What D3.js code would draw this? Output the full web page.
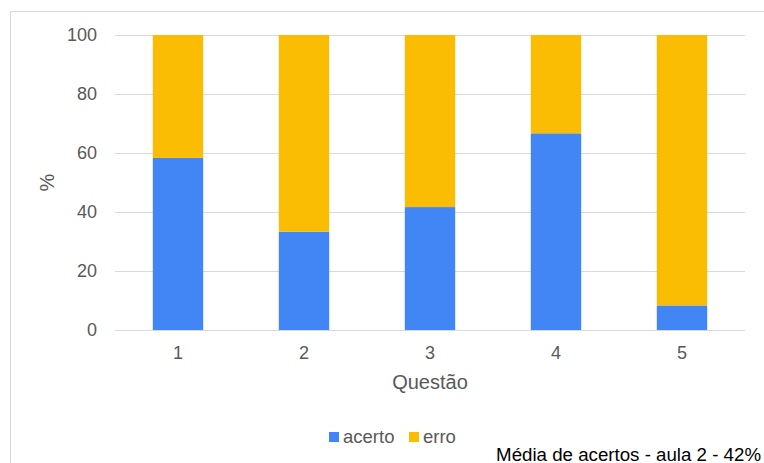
<!DOCTYPE html>
<html>
<meta charset="utf-8">
<style>
body { margin: 0; background: #fff; }
text { font-family: "Liberation Sans", Arial, sans-serif; }
.tick-label { font-size: 18px; fill: #595959; }
.axis-title { font-size: 20px; fill: #595959; }
.legend-label { font-size: 18.5px; fill: #595959; }
.footer { font-size: 18.7px; fill: #000; }
</style>
<body>
<script src="https://d3js.org/d3.v7.min.js"></script>
<script>

var questions = ["1", "2", "3", "4", "5"];
var acerto = [58.33, 33.33, 41.67, 66.67, 8.33];
var erro = [41.67, 66.67, 58.33, 33.33, 91.67];
var yTicks = [0, 20, 40, 60, 80, 100];
var seriesNames = ["acerto", "erro"];
var seriesColors = ["#4285f4", "#fbbc04"];

var width = 764, height = 463;
var plotLeft = 115, plotRight = 745, plotTop = 35, plotBottom = 330;

var svg = d3.select("body").append("svg")
    .attr("width", width)
    .attr("height", height);

// outer frame
svg.append("rect")
  .attr("x", 10.5).attr("y", 11.5)
  .attr("width", width).attr("height", height)
  .attr("fill", "none")
  .attr("stroke", "#d9d9d9");

var x = d3.scaleBand().domain(questions).range([plotLeft, plotRight]).paddingInner(0.6).paddingOuter(0.3);
var y = d3.scaleLinear().domain([0, 100]).range([plotBottom, plotTop]);

// gridlines
svg.append("g").selectAll("line")
  .data(yTicks)
  .enter()
  .append("line")
  .attr("x1", plotLeft).attr("x2", plotRight)
  .attr("y1", function(d) { return Math.round(y(d)) + 0.5; })
  .attr("y2", function(d) { return Math.round(y(d)) + 0.5; })
  .attr("stroke", "#d9d9d9")
  .attr("stroke-width", 1);

svg.append("g").selectAll("text")
  .data(yTicks)
  .enter()
  .append("text")
  .attr("class", "tick-label")
  .attr("x", 97)
  .attr("y", function(d) { return y(d); })
  .attr("dy", "0.35em")
  .attr("text-anchor", "end")
  .text(function(d) { return d; });

var rows = questions.map(function(q, i) { return { q: q, acerto: acerto[i], erro: erro[i] }; });
var stacked = d3.stack().keys(seriesNames)(rows);

svg.append("g").selectAll("g")
  .data(stacked)
  .enter()
  .append("g")
  .attr("fill", function(d, i) { return seriesColors[i]; })
  .selectAll("rect")
  .data(function(d) { return d; })
  .enter()
  .append("rect")
  .attr("x", function(d) { return x(d.data.q); })
  .attr("width", x.bandwidth())
  .attr("y", function(d) { return y(d[1]); })
  .attr("height", function(d) { return y(d[0]) - y(d[1]); });

// baseline
svg.append("line")
  .attr("x1", plotLeft).attr("x2", plotRight)
  .attr("y1", plotBottom + 0.5).attr("y2", plotBottom + 0.5)
  .attr("stroke", "#d9d9d9");

svg.append("g").selectAll("text")
  .data(questions)
  .enter()
  .append("text")
  .attr("class", "tick-label")
  .attr("x", function(d) { return x(d) + x.bandwidth() / 2; })
  .attr("y", 359)
  .attr("text-anchor", "middle")
  .text(function(d) { return d; });

svg.append("text")
  .attr("class", "axis-title")
  .attr("x", (plotLeft + plotRight) / 2)
  .attr("y", 389)
  .attr("text-anchor", "middle")
  .text("Questão");

svg.append("text")
  .attr("class", "axis-title")
  .attr("transform", "translate(54," + ((plotTop + plotBottom) / 2) + ") rotate(-90)")
  .attr("text-anchor", "middle")
  .text("%");

// legend
var legend = svg.append("g").selectAll("g")
  .data(seriesNames)
  .enter()
  .append("g")
  .attr("transform", function(d, i) { return "translate(" + [329, 409][i] + ",432)"; });

legend.append("rect")
  .attr("width", 10).attr("height", 10)
  .attr("fill", function(d, i) { return seriesColors[i]; });

legend.append("text")
  .attr("class", "legend-label")
  .attr("x", 14)
  .attr("y", 5)
  .attr("dy", "0.35em")
  .text(function(d) { return d; });

svg.append("text")
  .attr("class", "footer")
  .attr("x", 761)
  .attr("y", 461)
  .attr("text-anchor", "end")
  .text("Média de acertos - aula 2 - 42%");

</script>
</body>
</html>
